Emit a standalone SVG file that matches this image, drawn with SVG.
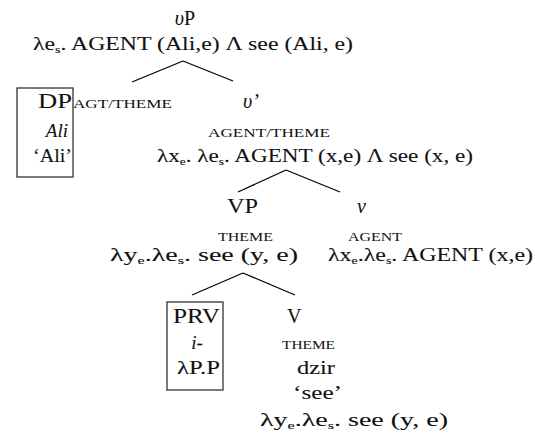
<svg xmlns="http://www.w3.org/2000/svg" width="535" height="437" viewBox="0 0 535 437" font-family="'Liberation Serif','Times New Roman','DejaVu Serif',serif">
<style>
text{font-family:"Liberation Serif","Times New Roman","DejaVu Serif",serif;fill:#111;stroke:#111;stroke-width:0.08;}
.m{font-size:19px;}
.cat{font-size:20px;}
.sc{font-size:12.5px;stroke-width:0;}
.it{font-style:italic;}
.sub{font-size:11px;}
.box{fill:none;stroke:#333;stroke-width:1.3;}
.ln{stroke:#000;stroke-width:1.2;fill:none;}
</style>
<rect width="535" height="437" fill="#fff"/>
<g id="connectors">
<line class="ln" x1="183" y1="61" x2="132" y2="82"/>
<line class="ln" x1="183" y1="61" x2="233" y2="81"/>
<line class="ln" x1="286" y1="170" x2="238" y2="192"/>
<line class="ln" x1="286" y1="170" x2="340" y2="192"/>
<line class="ln" x1="243" y1="273" x2="192" y2="295"/>
<line class="ln" x1="243" y1="273" x2="295" y2="295"/>
</g>
<g id="vP">
<text class="cat" x="185" y="25" text-anchor="middle"><tspan class="it">υ</tspan>P</text>
<text class="m" x="33" y="50" textLength="320" lengthAdjust="spacingAndGlyphs">λe<tspan class="sub" dy="3">s</tspan><tspan dy="-3">. AGENT (Ali,e) Λ see (Ali, e)</tspan></text>
</g>
<g id="DP">
<rect class="box" x="17" y="88" width="56" height="89"/>
<text class="cat" x="38" y="108" textLength="34" lengthAdjust="spacingAndGlyphs">DP</text>
<text class="sc" x="73" y="108" textLength="99" lengthAdjust="spacingAndGlyphs">AGT/THEME</text>
<text class="m it" x="68" y="137" text-anchor="end">Ali</text>
<text class="m" x="33" y="162" textLength="39" lengthAdjust="spacingAndGlyphs">‘Ali’</text>
</g>
<g id="vbar">
<text class="cat it" x="243" y="108">υ’</text>
<text class="sc" x="208" y="137" textLength="122" lengthAdjust="spacingAndGlyphs">AGENT/THEME</text>
<text class="m" x="157" y="162" textLength="316" lengthAdjust="spacingAndGlyphs">λx<tspan class="sub" dy="3">e</tspan><tspan dy="-3">. λe</tspan><tspan class="sub" dy="3">s</tspan><tspan dy="-3">. AGENT (x,e) Λ see (x, e)</tspan></text>
</g>
<g id="VP">
<text class="cat" x="227" y="213" textLength="31" lengthAdjust="spacingAndGlyphs">VP</text>
<text class="sc" x="218" y="241" textLength="55" lengthAdjust="spacingAndGlyphs">THEME</text>
<text class="m" x="110" y="261" textLength="188" lengthAdjust="spacingAndGlyphs">λy<tspan class="sub" dy="3">e</tspan><tspan dy="-3">.λe</tspan><tspan class="sub" dy="3">s</tspan><tspan dy="-3">. see (y, e)</tspan></text>
</g>
<g id="v">
<text class="cat it" x="357" y="213">ν</text>
<text class="sc" x="348" y="241" textLength="54" lengthAdjust="spacingAndGlyphs">AGENT</text>
<text class="m" x="328" y="261" textLength="205" lengthAdjust="spacingAndGlyphs">λx<tspan class="sub" dy="3">e</tspan><tspan dy="-3">.λe</tspan><tspan class="sub" dy="3">s</tspan><tspan dy="-3">. AGENT (x,e)</tspan></text>
</g>
<g id="PRV">
<rect class="box" x="167" y="302" width="56" height="88"/>
<text class="cat" x="173" y="323" textLength="47" lengthAdjust="spacingAndGlyphs">PRV</text>
<text class="m it" x="197" y="349" text-anchor="middle">i-</text>
<text class="m" x="177" y="374" textLength="43" lengthAdjust="spacingAndGlyphs">λP.P</text>
</g>
<g id="V">
<text class="cat" x="287" y="323">V</text>
<text class="sc" x="282" y="349" textLength="53" lengthAdjust="spacingAndGlyphs">THEME</text>
<text class="m" x="297" y="374" textLength="38" lengthAdjust="spacingAndGlyphs">dzir</text>
<text class="m" x="293" y="399" textLength="49" lengthAdjust="spacingAndGlyphs">‘see’</text>
<text class="m" x="260" y="426" textLength="188" lengthAdjust="spacingAndGlyphs">λy<tspan class="sub" dy="3">e</tspan><tspan dy="-3">.λe</tspan><tspan class="sub" dy="3">s</tspan><tspan dy="-3">. see (y, e)</tspan></text>
</g>
</svg>
